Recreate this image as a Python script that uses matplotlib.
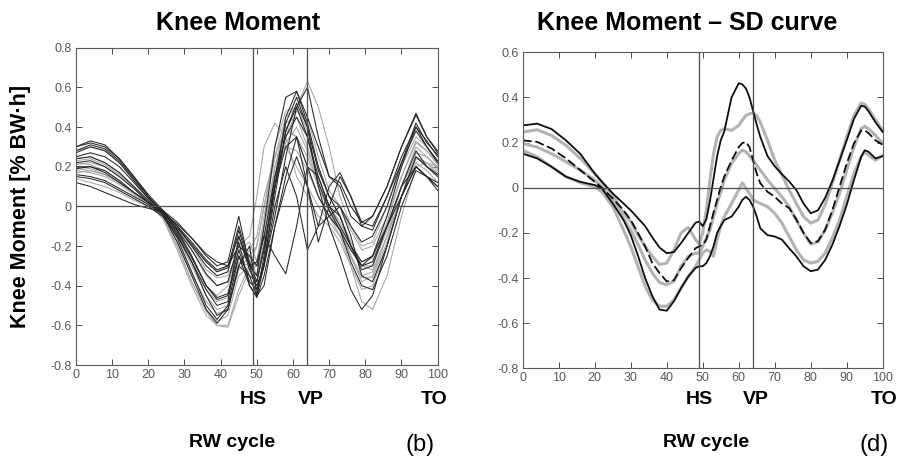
import matplotlib
matplotlib.use('Agg')
import matplotlib.pyplot as plt

BOLD = ['Liberation Sans', 'DejaVu Sans']
plt.rcParams['font.family'] = ['Liberation Sans', 'DejaVu Sans']

# Gait events (% of RW cycle)
hs_pos = 49
vp_pos = 64

# Panel (b): individual knee moment curves
cycle_b = [0, 4, 8, 12, 16, 20, 24, 28, 32, 36, 39, 42, 45, 48, 50, 52,
           55, 58, 61, 64, 67, 70, 73, 76, 79, 82, 86, 90, 94, 97, 100]

black_curves = [
    [0.30, 0.33, 0.31, 0.24, 0.15, 0.05, -0.04, -0.18, -0.35, -0.52, -0.59, -0.52, -0.30, -0.35, -0.45, -0.30,
     0.10, 0.45, 0.58, 0.42, 0.20, 0.05, -0.05, -0.20, -0.30, -0.25, -0.05, 0.20, 0.40, 0.33, 0.25],
    [0.12, 0.10, 0.07, 0.04, 0.01, -0.01, -0.03, -0.09, -0.16, -0.24, -0.28, -0.30, -0.20, -0.25, -0.30, -0.15,
     0.15, 0.35, 0.45, 0.35, 0.15, 0.00, -0.10, -0.20, -0.28, -0.25, -0.10, 0.05, 0.20, 0.15, 0.10],
    [0.27, 0.30, 0.28, 0.22, 0.13, 0.04, -0.03, -0.10, -0.18, -0.27, -0.32, -0.30, -0.15, -0.32, -0.40, -0.30,
     -0.05, 0.25, 0.50, 0.60, 0.35, 0.15, 0.10, -0.05, -0.10, -0.05, 0.10, 0.30, 0.47, 0.35, 0.27],
    [0.15, 0.14, 0.12, 0.08, 0.04, 0.00, -0.05, -0.15, -0.28, -0.42, -0.50, -0.48, -0.15, -0.30, -0.28, -0.15,
     -0.25, -0.34, -0.10, 0.20, 0.15, 0.00, -0.05, -0.20, -0.32, -0.30, -0.10, 0.10, 0.20, 0.15, 0.10],
    [0.25, 0.27, 0.25, 0.20, 0.12, 0.04, -0.02, -0.10, -0.20, -0.30, -0.35, -0.33, -0.12, -0.30, -0.42, -0.30,
     0.00, 0.20, 0.05, -0.22, -0.10, 0.10, 0.17, 0.05, -0.10, -0.12, 0.05, 0.25, 0.40, 0.30, 0.22],
    [0.24, 0.25, 0.22, 0.17, 0.10, 0.03, -0.04, -0.16, -0.33, -0.50, -0.57, -0.50, -0.25, -0.40, -0.45, -0.25,
     0.15, 0.42, 0.55, 0.40, 0.10, -0.10, -0.25, -0.42, -0.52, -0.45, -0.20, 0.05, 0.25, 0.20, 0.15],
    [0.20, 0.20, 0.17, 0.12, 0.07, 0.02, -0.03, -0.12, -0.25, -0.40, -0.47, -0.45, -0.25, -0.35, -0.38, -0.20,
     0.10, 0.30, 0.35, 0.20, 0.05, -0.05, -0.12, -0.22, -0.30, -0.28, -0.10, 0.10, 0.28, 0.20, 0.16],
    [0.30, 0.32, 0.30, 0.24, 0.15, 0.06, -0.02, -0.08, -0.16, -0.25, -0.30, -0.28, -0.05, -0.30, -0.35, -0.10,
     0.30, 0.55, 0.58, 0.45, 0.30, 0.15, 0.12, 0.00, -0.08, -0.05, 0.10, 0.30, 0.46, 0.35, 0.28],
    [0.22, 0.23, 0.20, 0.15, 0.09, 0.02, -0.04, -0.14, -0.28, -0.45, -0.55, -0.52, -0.30, -0.20, -0.45, -0.40,
     -0.10, 0.10, 0.25, 0.10, -0.10, -0.05, 0.00, -0.15, -0.35, -0.38, -0.20, 0.05, 0.20, 0.15, 0.08],
    [0.19, 0.20, 0.18, 0.13, 0.07, 0.02, -0.03, -0.12, -0.22, -0.34, -0.40, -0.38, -0.18, -0.40, -0.46, -0.35,
     -0.10, 0.15, 0.35, 0.10, -0.18, 0.00, 0.15, 0.05, -0.08, -0.10, 0.05, 0.22, 0.38, 0.30, 0.23],
    [0.16, 0.15, 0.13, 0.09, 0.05, 0.01, -0.04, -0.13, -0.26, -0.40, -0.46, -0.44, -0.22, -0.38, -0.42, -0.28,
     0.05, 0.38, 0.50, 0.35, 0.12, -0.02, -0.12, -0.28, -0.40, -0.42, -0.25, 0.00, 0.18, 0.15, 0.12],
    [0.28, 0.31, 0.29, 0.23, 0.14, 0.05, -0.03, -0.11, -0.19, -0.28, -0.33, -0.31, -0.10, -0.28, -0.38, -0.22,
     0.10, 0.38, 0.52, 0.40, 0.18, 0.05, 0.00, -0.10, -0.18, -0.15, 0.00, 0.22, 0.42, 0.32, 0.26],
]

grey_curves = [
    [0.20, 0.19, 0.16, 0.12, 0.07, 0.02, -0.05, -0.20, -0.38, -0.52, -0.58, -0.55, -0.35, -0.30, -0.35, -0.20,
     0.20, 0.38, 0.35, 0.25, 0.10, -0.02, -0.10, -0.25, -0.38, -0.35, -0.15, 0.10, 0.30, 0.25, 0.20],
    [0.22, 0.21, 0.18, 0.13, 0.07, 0.02, -0.02, -0.12, -0.25, -0.40, -0.45, -0.40, -0.20, -0.15, 0.05, 0.30,
     0.42, 0.35, 0.15, 0.05, -0.05, -0.10, -0.18, -0.30, -0.42, -0.40, -0.20, 0.05, 0.25, 0.20, 0.17],
    [0.18, 0.17, 0.15, 0.11, 0.06, 0.01, -0.06, -0.22, -0.40, -0.55, -0.60, -0.60, -0.42, -0.30, -0.20, 0.00,
     0.25, 0.40, 0.35, 0.20, 0.05, -0.05, -0.15, -0.30, -0.48, -0.52, -0.35, -0.05, 0.20, 0.22, 0.18],
    [0.28, 0.30, 0.28, 0.22, 0.14, 0.05, -0.03, -0.12, -0.20, -0.28, -0.33, -0.30, -0.20, -0.25, -0.20, 0.00,
     0.30, 0.48, 0.50, 0.63, 0.50, 0.30, 0.05, -0.10, -0.20, -0.18, 0.00, 0.20, 0.35, 0.30, 0.22],
    [0.14, 0.12, 0.10, 0.07, 0.03, 0.00, -0.04, -0.15, -0.30, -0.45, -0.52, -0.50, -0.30, -0.22, -0.15, 0.05,
     0.25, 0.30, 0.20, 0.10, 0.00, -0.08, -0.15, -0.25, -0.35, -0.33, -0.15, 0.05, 0.22, 0.18, 0.12],
    [0.17, 0.18, 0.16, 0.12, 0.07, 0.02, -0.04, -0.14, -0.28, -0.42, -0.48, -0.46, -0.28, -0.30, -0.28, -0.10,
     0.15, 0.30, 0.28, 0.18, 0.05, -0.05, -0.12, -0.22, -0.30, -0.30, -0.12, 0.10, 0.25, 0.22, 0.20],
    [0.24, 0.25, 0.22, 0.17, 0.10, 0.03, -0.02, -0.10, -0.20, -0.32, -0.36, -0.35, -0.22, -0.28, -0.30, -0.15,
     0.10, 0.35, 0.48, 0.45, 0.25, 0.08, 0.00, -0.12, -0.22, -0.20, -0.05, 0.15, 0.32, 0.28, 0.22],
    [0.21, 0.22, 0.20, 0.15, 0.09, 0.02, -0.06, -0.20, -0.38, -0.53, -0.60, -0.61, -0.45, -0.32, -0.30, -0.10,
     0.20, 0.42, 0.45, 0.30, 0.12, 0.00, -0.08, -0.20, -0.30, -0.32, -0.15, 0.05, 0.27, 0.25, 0.19],
    [0.19, 0.18, 0.16, 0.12, 0.07, 0.01, -0.05, -0.18, -0.34, -0.48, -0.54, -0.52, -0.32, -0.25, -0.35, -0.18,
     0.12, 0.32, 0.40, 0.28, 0.10, -0.03, -0.12, -0.26, -0.36, -0.36, -0.18, 0.05, 0.24, 0.22, 0.16],
    [0.23, 0.24, 0.21, 0.16, 0.10, 0.03, -0.03, -0.10, -0.22, -0.35, -0.40, -0.38, -0.22, -0.18, -0.28, -0.05,
     0.25, 0.45, 0.50, 0.38, 0.20, 0.05, -0.05, -0.18, -0.28, -0.26, -0.08, 0.15, 0.33, 0.28, 0.21],
]

# Panel (d): mean +/- SD curves for the two groups
cycle_d = [0, 4, 8, 12, 16, 20, 22, 25, 28, 30, 32, 34, 36, 38, 40, 42, 44, 46, 48, 49,
           50, 51, 52, 53, 54, 55, 56, 58, 60, 61, 62, 63, 64, 65, 66, 68, 70, 72, 74, 76,
           78, 80, 82, 84, 86, 88, 90, 92, 94, 95, 96, 98, 100]

black_upper = [0.276, 0.284, 0.26, 0.21, 0.15, 0.063, 0.026, -0.025, -0.07, -0.1, -0.135, -0.17, -0.22, -0.265,
               -0.29, -0.285, -0.245, -0.2, -0.155, -0.15, -0.17, -0.14, -0.06, 0.04, 0.14, 0.21, 0.25, 0.40,
               0.463, 0.458, 0.44, 0.40, 0.34, 0.28, 0.225, 0.14, 0.095, 0.06, 0.028, -0.01, -0.07, -0.113,
               -0.1, -0.045, 0.03, 0.12, 0.21, 0.305, 0.363, 0.36, 0.34, 0.29, 0.247]
black_mean = [0.21, 0.203, 0.174, 0.13, 0.078, 0.026, 0.0, -0.047, -0.1, -0.143, -0.2, -0.26, -0.334, -0.378,
              -0.415, -0.41, -0.356, -0.31, -0.268, -0.26, -0.253, -0.23, -0.17, -0.11, -0.054, 0.004, 0.05,
              0.12, 0.18, 0.198, 0.203, 0.18, 0.12, 0.063, 0.02, -0.018, -0.04, -0.07, -0.09, -0.14, -0.2,
              -0.245, -0.237, -0.187, -0.1, 0.004, 0.107, 0.196, 0.254, 0.254, 0.243, 0.21, 0.19]
black_lower = [0.151, 0.13, 0.093, 0.049, 0.026, 0.012, -0.003, -0.07, -0.143, -0.21, -0.30, -0.40, -0.48,
               -0.54, -0.545, -0.503, -0.444, -0.393, -0.356, -0.348, -0.348, -0.334, -0.304, -0.26, -0.2,
               -0.17, -0.143, -0.128, -0.084, -0.054, -0.04, -0.054, -0.084, -0.128, -0.18, -0.21, -0.216,
               -0.23, -0.268, -0.304, -0.348, -0.37, -0.363, -0.32, -0.253, -0.17, -0.076, 0.034, 0.137,
               0.166, 0.16, 0.13, 0.14]
grey_upper = [0.247, 0.257, 0.232, 0.188, 0.13, 0.063, 0.026, -0.03, -0.113, -0.15, -0.21, -0.26, -0.304,
              -0.34, -0.334, -0.275, -0.2, -0.175, -0.23, -0.25, -0.2, -0.1, 0.034, 0.15, 0.225, 0.254,
              0.262, 0.254, 0.276, 0.30, 0.32, 0.328, 0.33, 0.32, 0.29, 0.21, 0.122, 0.056, -0.01, -0.07,
              -0.128, -0.157, -0.143, -0.076, 0.019, 0.122, 0.225, 0.32, 0.375, 0.37, 0.35, 0.30, 0.254]
grey_mean = [0.196, 0.18, 0.151, 0.115, 0.078, 0.034, 0.004, -0.054, -0.135, -0.187, -0.25, -0.32, -0.378,
             -0.42, -0.43, -0.415, -0.348, -0.304, -0.29, -0.29, -0.26, -0.225, -0.187, -0.13, -0.07, -0.02,
             0.034, 0.107, 0.151, 0.166, 0.16, 0.14, 0.122, 0.10, 0.078, 0.034, -0.003, -0.04, -0.084, -0.143,
             -0.2, -0.25, -0.24, -0.187, -0.113, -0.025, 0.078, 0.18, 0.262, 0.272, 0.262, 0.232, 0.196]
grey_lower = [0.166, 0.137, 0.093, 0.049, 0.022, 0.004, -0.018, -0.084, -0.187, -0.26, -0.348, -0.437,
              -0.497, -0.525, -0.525, -0.497, -0.444, -0.393, -0.348, -0.32, -0.29, -0.275, -0.282, -0.304,
              -0.23, -0.17, -0.128, -0.07, -0.01, 0.022, -0.003, -0.025, -0.054, -0.062, -0.07, -0.084,
              -0.113, -0.157, -0.216, -0.275, -0.32, -0.334, -0.326, -0.29, -0.223, -0.143, -0.04, 0.063,
              0.137, 0.16, 0.144, 0.122, 0.144]

x_ticks = list(range(0, 101, 10))
y_ticks_b = [-0.8, -0.6, -0.4, -0.2, 0, 0.2, 0.4, 0.6, 0.8]
y_ticks_d = [-0.8, -0.6, -0.4, -0.2, 0, 0.2, 0.4, 0.6]


def tick_text(v):
    return '0' if v == 0 else f'{v:g}'


def style_axes(ax, y_ticks):
    ax.set_xlim(0, 100)
    ax.set_ylim(y_ticks[0], y_ticks[-1])
    ax.set_xticks(x_ticks)
    ax.set_yticks(y_ticks)
    ax.set_yticklabels([tick_text(v) for v in y_ticks])
    ax.tick_params(direction='in', length=4, width=0.7, top=True, right=True,
                   labelsize=9, labelcolor='0.35', color='0.3', pad=3)
    for sp in ax.spines.values():
        sp.set_color('0.35')
        sp.set_linewidth(0.8)
    # zero line and gait events
    ax.axhline(0, color='0.3', lw=0.9, zorder=5)
    ax.axvline(hs_pos, color='0.3', lw=0.9, zorder=5)
    ax.axvline(vp_pos, color='0.3', lw=0.9, zorder=5)


def event_labels(ax, y, to_x):
    kw = dict(transform=ax.get_xaxis_transform(), ha='center', va='center',
              fontsize=14, fontweight='bold', family=BOLD, clip_on=False)
    ax.text(hs_pos, y, 'HS', **kw)
    ax.text(vp_pos + 0.8, y, 'VP', **kw)
    ax.text(to_x, y, 'TO', **kw)


fig = plt.figure(figsize=(9, 4.66), dpi=100)
ax_b = fig.add_axes([0.0844, 0.2167, 0.4019, 0.681])
ax_d = fig.add_axes([0.5808, 0.2097, 0.4, 0.678])

# Panel (b)
for ys in grey_curves:
    ax_b.plot(cycle_b, ys, color='0.65', lw=0.75)
for ys in black_curves:
    ax_b.plot(cycle_b, ys, color='0.15', lw=0.75)
style_axes(ax_b, y_ticks_b)
event_labels(ax_b, -0.11, 99)

# Panel (d)
ax_d.plot(cycle_d, grey_upper, color='0.7', lw=2.2)
ax_d.plot(cycle_d, grey_mean, color='0.7', lw=2.2)
ax_d.plot(cycle_d, grey_lower, color='0.7', lw=2.2)
ax_d.plot(cycle_d, black_upper, color='0.05', lw=1.3)
ax_d.plot(cycle_d, black_mean, color='0.05', lw=1.3, ls=(0, (5, 2)))
ax_d.plot(cycle_d, black_lower, color='0.05', lw=1.3)
style_axes(ax_d, y_ticks_d)
event_labels(ax_d, -0.10, 100.3)

# Titles and axis captions
fig.text(0.264, 0.951, 'Knee Moment', ha='center', va='center',
         fontsize=18, fontweight='bold', family=BOLD)
fig.text(0.764, 0.951, 'Knee Moment \u2013 SD curve', ha='center', va='center',
         fontsize=18, fontweight='bold', family=BOLD)
fig.text(0.0233, 0.556, 'Knee Moment [% BW\u00b7h]', ha='center', va='center',
         rotation=90, fontsize=15.5, fontweight='bold', family=BOLD)
fig.text(0.2574, 0.0494, 'RW cycle', ha='center', va='center',
         fontsize=14, fontweight='bold', family=BOLD)
fig.text(0.7842, 0.0494, 'RW cycle', ha='center', va='center',
         fontsize=14, fontweight='bold', family=BOLD)
fig.text(0.4667, 0.045, '(b)', ha='center', va='center', fontsize=17)
fig.text(0.971, 0.045, '(d)', ha='center', va='center', fontsize=17)

fig.savefig('out.png', dpi=100)
